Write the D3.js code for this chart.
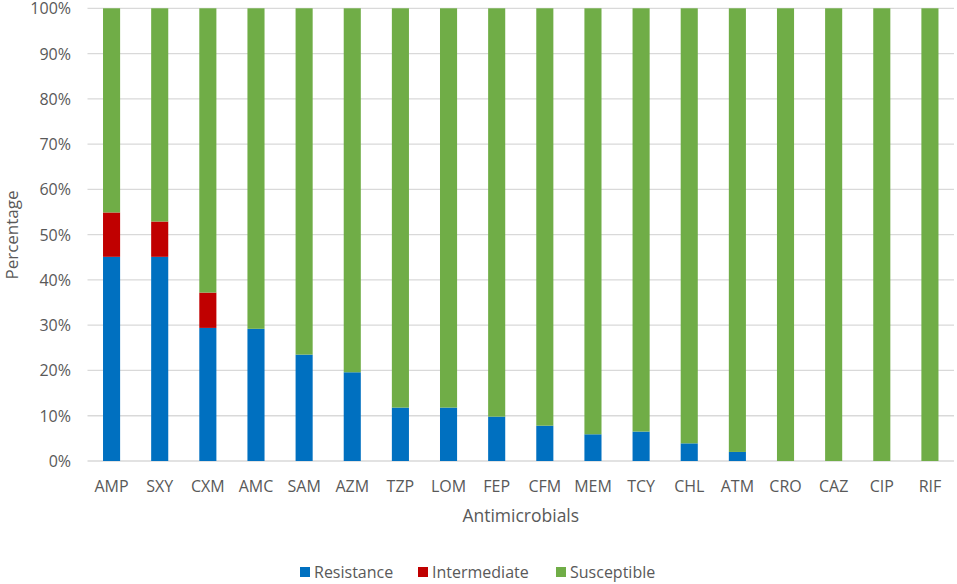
<!DOCTYPE html>
<html>
<head>
<meta charset="utf-8">
<script src="https://cdn.jsdelivr.net/npm/d3@7/dist/d3.min.js"></script>
<style>
  html, body { margin: 0; padding: 0; background: #fff; }
  svg { display: block; }
  text { font-family: "Open Sans", sans-serif; fill: #595959; }
</style>
</head>
<body>
<svg id="chart" width="957" height="584"></svg>
<script>
const categories = ["AMP","SXY","CXM","AMC","SAM","AZM","TZP","LOM","FEP","CFM","MEM","TCY","CHL","ATM","CRO","CAZ","CIP","RIF"];
const resistance   = [45.1, 45.1, 29.4, 29.2, 23.5, 19.6, 11.8, 11.8, 9.8, 7.8, 5.9, 6.5, 3.9, 2.0, 0, 0, 0, 0];
const intermediate = [9.8, 7.8, 7.8, 0, 0, 0, 0, 0, 0, 0, 0, 0, 0, 0, 0, 0, 0, 0];
const susceptible  = categories.map((c, i) => 100 - resistance[i] - intermediate[i]);
const yTicks = [0, 10, 20, 30, 40, 50, 60, 70, 80, 90, 100];
const seriesNames = ["Resistance", "Intermediate", "Susceptible"];
const colors = ["#0070C0", "#C00000", "#70AD47"];

const svg = d3.select("#chart");
const plotL = 87.5, plotR = 954, plotT = 8.3, plotB = 461;

const rows = categories.map((c, i) => ({
  cat: c, Resistance: resistance[i], Intermediate: intermediate[i], Susceptible: susceptible[i]
}));

const x = d3.scaleBand().domain(categories).range([plotL, plotR]).paddingInner(0.645).paddingOuter(0.3225);
const y = d3.scaleLinear().domain([0, 100]).range([plotB, plotT]);

// gridlines
svg.append("g").selectAll("line").data(yTicks).join("line")
  .attr("x1", plotL).attr("x2", plotR)
  .attr("y1", d => y(d)).attr("y2", d => y(d))
  .attr("stroke", "#D9D9D9").attr("stroke-width", 1.3);

// bars
const stack = d3.stack().keys(seriesNames)(rows);
svg.append("g").selectAll("g").data(stack).join("g")
  .attr("fill", (d, i) => colors[i])
  .selectAll("rect").data(d => d).join("rect")
  .attr("x", d => x(d.data.cat))
  .attr("width", x.bandwidth())
  .attr("y", d => y(d[1]))
  .attr("height", d => Math.max(0, y(d[0]) - y(d[1])));

// y axis tick labels
const yAxis = d3.axisLeft(y).tickValues(yTicks).tickFormat(d => d + "%").tickSize(0).tickPadding(0);
const gy = svg.append("g").attr("transform", `translate(${plotL - 16.5},0)`).call(yAxis);
gy.select(".domain").remove();
gy.selectAll("text").style("font-size", "16px").attr("fill", "#595959").attr("dy", "0.34em");

// x axis tick labels
const xAxis = d3.axisBottom(x).tickSize(0).tickPadding(0);
const gx = svg.append("g").attr("transform", `translate(0,${plotB})`).call(xAxis);
gx.select(".domain").remove();
gx.selectAll("text").style("font-size", "16px").attr("fill", "#595959").attr("dy", null).attr("y", 31);

// axis titles
svg.append("text").attr("x", (plotL + plotR) / 2).attr("y", 522)
  .attr("text-anchor", "middle").style("font-size", "17.5px").text("Antimicrobials");
svg.append("text").attr("transform", `translate(18,235) rotate(-90)`)
  .attr("text-anchor", "middle").style("font-size", "17px").text("Percentage");

// legend
const legendX = [300, 418, 556];
const lg = svg.append("g").selectAll("g").data(seriesNames).join("g")
  .attr("transform", (d, i) => `translate(${legendX[i]},567)`);
lg.append("rect").attr("width", 10).attr("height", 10).attr("fill", (d, i) => colors[i]);
lg.append("text").attr("x", 14).attr("y", 10.5).style("font-size", "16px").text(d => d);
</script>
</body>
</html>
